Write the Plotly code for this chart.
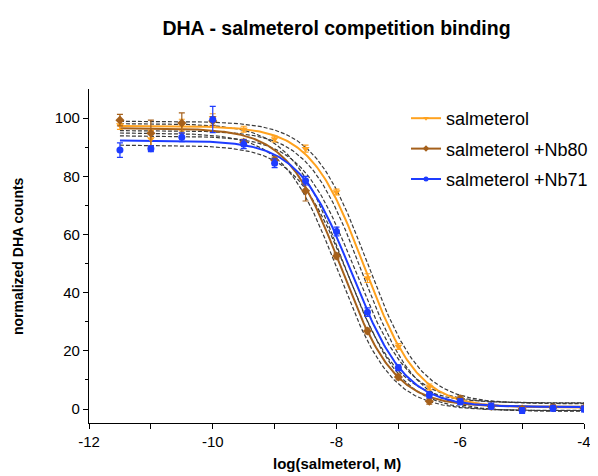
import numpy as np
import plotly.graph_objects as go

# ---- data ----
log_conc = [-11.5, -11, -10.5, -10, -9.5, -9, -8.5, -8, -7.5, -7, -6.5, -6, -5.5, -5, -4.5, -4]
salmeterol = [97.6, 92.8, 97.6, 100.0, 96.2, 92.8, 89.5, 74.6, 45.0, 21.5, 7.6, 3.0, 0.8, -0.3, 0.7, 0.3]
salmeterol_err = [1.5, 3.0, 2.0, 1.5, 1.0, 1.0, 1.2, 1.0, 1.5, 1.0, 1.0, 1.0, 0.8, 0.8, 0.8, 0.8]
nb80 = [99.3, 94.8, 98.3, 99.0, 91.7, 85.6, 75.0, 52.6, 26.8, 11.0, 2.7, 3.5, 1.0, 0.0, 0.5, 0.3]
nb80_err = [2.0, 4.5, 3.5, 1.5, 1.0, 1.0, 3.5, 1.0, 1.0, 1.0, 1.0, 1.0, 0.8, 0.8, 0.8, 0.8]
nb71 = [89.0, 89.5, 93.4, 99.5, 91.0, 84.5, 78.5, 61.0, 33.3, 14.2, 4.8, 2.5, 1.0, -0.5, 0.3, 0.0]
nb71_err = [2.5, 1.0, 1.5, 4.5, 1.5, 1.5, 1.5, 1.5, 1.5, 1.0, 1.0, 1.0, 1.0, 1.0, 1.0, 1.0]

# fitted 4PL parameters: top, bottom, logIC50, hill
fit_sal = (97.3, 0.5, -7.55, 1.0)
fit_nb80 = (96.5, 0.8, -7.93, 1.0)
fit_nb71 = (92.3, 0.7, -7.75, 1.0)
# confidence band half-widths: top, bottom, logIC50
ci_delta = (1.6, 1.3, 0.045)

series_names = ["salmeterol", "salmeterol +Nb80", "salmeterol +Nb71"]
colors = ["#FFA21F", "#A5601B", "#1E3CFF"]
symbols = ["triangle-down", "diamond", "circle"]

x_ticks = [-12, -10, -8, -6, -4]
y_ticks = [0, 20, 40, 60, 80, 100]


def four_pl(x, top, bottom, logic50, hill):
    return bottom + (top - bottom) / (1 + 10 ** ((x - logic50) * hill))


xs = np.linspace(-11.5, -4, 300)
fig = go.Figure()

datasets = [
    (salmeterol, salmeterol_err, fit_sal),
    (nb80, nb80_err, fit_nb80),
    (nb71, nb71_err, fit_nb71),
]

# confidence bands (dashed)
for vals, errs, p in datasets:
    top, bot, lic, h = p
    dt, db, dl = ci_delta
    up = four_pl(xs, top + dt, bot + db, lic + dl, h)
    lo = four_pl(xs, top - dt, bot - db, lic - dl, h)
    for band in (up, lo):
        fig.add_trace(go.Scatter(x=xs, y=band, mode="lines", showlegend=False,
                                 hoverinfo="skip",
                                 line=dict(color="#3a3a3a", width=1.2, dash="4px,2px")))

# fitted curves
for (vals, errs, p), c in zip(datasets, colors):
    fig.add_trace(go.Scatter(x=xs, y=four_pl(xs, *p), mode="lines", showlegend=False,
                             line=dict(color=c, width=2)))

# data points
for (vals, errs, p), c, s in zip(datasets, colors, symbols):
    fig.add_trace(go.Scatter(x=log_conc, y=vals, mode="markers", showlegend=False,
                             marker=dict(color=c, symbol=s, size=7),
                             error_y=dict(type="data", array=errs, color=c, thickness=1.2, width=3)))

# legend entries
for i, (n, c, s) in enumerate(zip(series_names, colors, symbols)):
    fig.add_trace(go.Scatter(x=[None], y=[None], mode="lines+markers", name=n,
                             legendgroup=str(i),
                             marker=dict(color=c, symbol=s, size=5),
                             line=dict(color=c, width=2)))

# page body adds an 8px offset; figure coordinates below account for it
W, H = 590, 468
L, R, T, B = 81, 14, 81, 53
PW, PH = W - L - R, H - T - B
fig.update_layout(
    width=W, height=H,
    margin=dict(l=L, r=R, t=T, b=B, autoexpand=False),
    paper_bgcolor="white", plot_bgcolor="white",
    font=dict(family="Liberation Sans, Arial, sans-serif", color="black", size=15),
    title=dict(text="<b>DHA - salmeterol competition binding</b>", x=0.5, xref="paper",
               y=1 - 20 / H, yref="container", xanchor="center", yanchor="middle",
               font=dict(size=19.5)),
    showlegend=True,
    legend=dict(x=(398 - L) / PW, y=1 - (92 - T) / PH, xanchor="left", yanchor="top",
                font=dict(size=18), tracegroupgap=4, bgcolor="rgba(0,0,0,0)", itemwidth=30),
    xaxis=dict(range=[-12, -4], tickvals=x_ticks, ticktext=[str(v) for v in x_ticks],
               automargin=False,
               showline=True, linecolor="black", linewidth=1.3, ticks="outside",
               ticklen=5, tickwidth=1.3, tickcolor="black", showgrid=False, zeroline=False,
               minor=dict(tickvals=[-11, -9, -7, -5], ticks="outside", ticklen=5,
                          tickwidth=1.3, tickcolor="black"),
               tickfont=dict(size=15)),
    yaxis=dict(range=[-4.8, 110], tickvals=y_ticks, automargin=False,
               showline=True, linecolor="black", linewidth=1.3, ticks="outside",
               ticklen=5, tickwidth=1.3, tickcolor="black", showgrid=False, zeroline=False,
               minor=dict(tickvals=[10, 30, 50, 70, 90], ticks="outside", ticklen=3,
                          tickwidth=1.3, tickcolor="black"),
               tickfont=dict(size=15)),
    annotations=[
        dict(text="<b>log(salmeterol, M)</b>", xref="paper", yref="paper",
             x=0.5, y=-(455 - (H - B)) / PH, xanchor="center", yanchor="middle",
             showarrow=False, font=dict(size=15)),
        dict(text="<b>normalized DHA counts</b>", xref="paper", yref="paper",
             x=-(L - 10) / PW, y=0.5, xanchor="center", yanchor="middle",
             textangle=-90, showarrow=False, font=dict(size=14)),
    ],
)

fig.write_html("out.html")
